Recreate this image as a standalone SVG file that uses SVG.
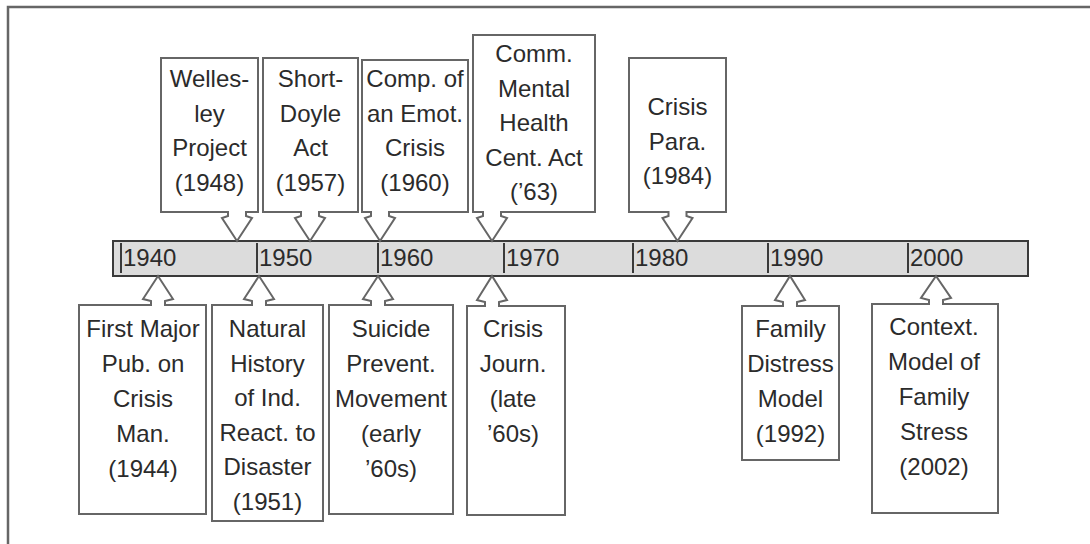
<svg xmlns="http://www.w3.org/2000/svg" width="1090" height="544" viewBox="0 0 1090 544">
<style>
.frame{fill:none;stroke:#666;stroke-width:2.5}
.box{fill:#fff;stroke:#666;stroke-width:2;stroke-linejoin:miter}
.t{font-family:"Liberation Sans",Arial,sans-serif;font-size:24px;fill:#2b2b2b;text-anchor:middle}
.yr{font-family:"Liberation Sans",Arial,sans-serif;font-size:24px;fill:#2b2b2b}
.bar{fill:#dcdcdc;stroke:#3a3a3a;stroke-width:2}
.tick{stroke:#3a3a3a;stroke-width:2}
</style>
<rect width="1090" height="544" fill="#fff"/>
<path class="frame" d="M8,544 V7 H1090"/>
<g id="timeline">
<rect class="bar" x="113" y="241" width="915" height="35"/>
<line class="tick" x1="121" y1="243" x2="121" y2="273"/>
<line class="tick" x1="257" y1="243" x2="257" y2="273"/>
<line class="tick" x1="378" y1="243" x2="378" y2="273"/>
<line class="tick" x1="504" y1="243" x2="504" y2="273"/>
<line class="tick" x1="633" y1="243" x2="633" y2="273"/>
<line class="tick" x1="768" y1="243" x2="768" y2="273"/>
<line class="tick" x1="908" y1="243" x2="908" y2="273"/>
<text class="yr" x="123" y="266">1940</text>
<text class="yr" x="259" y="266">1950</text>
<text class="yr" x="380" y="266">1960</text>
<text class="yr" x="506" y="266">1970</text>
<text class="yr" x="635" y="266">1980</text>
<text class="yr" x="770" y="266">1990</text>
<text class="yr" x="910" y="266">2000</text>
</g>
<g id="connectors"></g>
<g id="wellesley">
<path class="box" d="M161,58 H258 V212 H246 L246,216 L252,218 L237,241 L222,218 L228,216 L228,212 H161 Z"/>
<text class="t" x="209.5" y="87">Welles-</text>
<text class="t" x="209.5" y="121.5">ley</text>
<text class="t" x="209.5" y="156">Project</text>
<text class="t" x="209.5" y="190.5">(1948)</text>
</g>
<g id="shortdoyle">
<path class="box" d="M263,58 H358 V212 H319 L319,216 L325,218 L310,241 L295,218 L301,216 L301,212 H263 Z"/>
<text class="t" x="310.5" y="87">Short-</text>
<text class="t" x="310.5" y="121.5">Doyle</text>
<text class="t" x="310.5" y="156">Act</text>
<text class="t" x="310.5" y="190.5">(1957)</text>
</g>
<g id="compemot">
<path class="box" d="M362,60 H468 V212 H389 L389,216 L395,218 L380,241 L365,218 L371,216 L371,212 H362 Z"/>
<text class="t" x="415" y="87">Comp. of</text>
<text class="t" x="415" y="121.5">an Emot.</text>
<text class="t" x="415" y="156">Crisis</text>
<text class="t" x="415" y="190.5">(1960)</text>
</g>
<g id="commmental">
<path class="box" d="M473,35 H595 V212 H501 L501,216 L507,218 L492,241 L477,218 L483,216 L483,212 H473 Z"/>
<text class="t" x="534" y="62">Comm.</text>
<text class="t" x="534" y="96.5">Mental</text>
<text class="t" x="534" y="131">Health</text>
<text class="t" x="534" y="165.5">Cent. Act</text>
<text class="t" x="534" y="200">(’63)</text>
</g>
<g id="crisispara">
<path class="box" d="M629,58 H726 V212 H686.5 L686.5,216 L692.5,218 L677.5,241 L662.5,218 L668.5,216 L668.5,212 H629 Z"/>
<text class="t" x="677.5" y="115">Crisis</text>
<text class="t" x="677.5" y="149.5">Para.</text>
<text class="t" x="677.5" y="184">(1984)</text>
</g>
<g id="firstmajor">
<path class="box" d="M79,305 H151 L151,301 L143,299 L158,276 L173,299 L165,301 L165,305 H206 V514 H79 Z"/>
<text class="t" x="143" y="337">First Major</text>
<text class="t" x="143" y="372">Pub. on</text>
<text class="t" x="143" y="407">Crisis</text>
<text class="t" x="143" y="442">Man.</text>
<text class="t" x="143" y="477">(1944)</text>
</g>
<g id="naturalhistory">
<path class="box" d="M212,305 H252 L252,301 L244,299 L259,276 L274,299 L266,301 L266,305 H323 V521 H212 Z"/>
<text class="t" x="267.5" y="337">Natural</text>
<text class="t" x="267.5" y="371.6">History</text>
<text class="t" x="267.5" y="406.2">of Ind.</text>
<text class="t" x="267.5" y="440.8">React. to</text>
<text class="t" x="267.5" y="475.4">Disaster</text>
<text class="t" x="267.5" y="510">(1951)</text>
</g>
<g id="suicide">
<path class="box" d="M329,305 H371 L371,301 L363,299 L378,276 L393,299 L385,301 L385,305 H453 V514 H329 Z"/>
<text class="t" x="391" y="337">Suicide</text>
<text class="t" x="391" y="372">Prevent.</text>
<text class="t" x="391" y="407">Movement</text>
<text class="t" x="391" y="442">(early</text>
<text class="t" x="391" y="477">’60s)</text>
</g>
<g id="crisisjourn">
<path class="box" d="M467,306 H485 L485,302 L477,300 L492,276 L507,300 L499,302 L499,306 H565 V515 H467 Z"/>
<text class="t" x="513" y="337">Crisis</text>
<text class="t" x="513" y="372">Journ.</text>
<text class="t" x="513" y="407">(late</text>
<text class="t" x="513" y="442">’60s)</text>
</g>
<g id="familydistress">
<path class="box" d="M742,306 H783 L783,302 L775,300 L790,276 L805,300 L797,302 L797,306 H839 V460 H742 Z"/>
<text class="t" x="790.5" y="337">Family</text>
<text class="t" x="790.5" y="372">Distress</text>
<text class="t" x="790.5" y="407">Model</text>
<text class="t" x="790.5" y="442">(1992)</text>
</g>
<g id="contextmodel">
<path class="box" d="M872,304 H929 L929,300 L921,298 L936,276 L951,298 L943,300 L943,304 H998 V513 H872 Z"/>
<text class="t" x="934" y="335">Context.</text>
<text class="t" x="934" y="370">Model of</text>
<text class="t" x="934" y="405">Family</text>
<text class="t" x="934" y="440">Stress</text>
<text class="t" x="934" y="475">(2002)</text>
</g>
</svg>
